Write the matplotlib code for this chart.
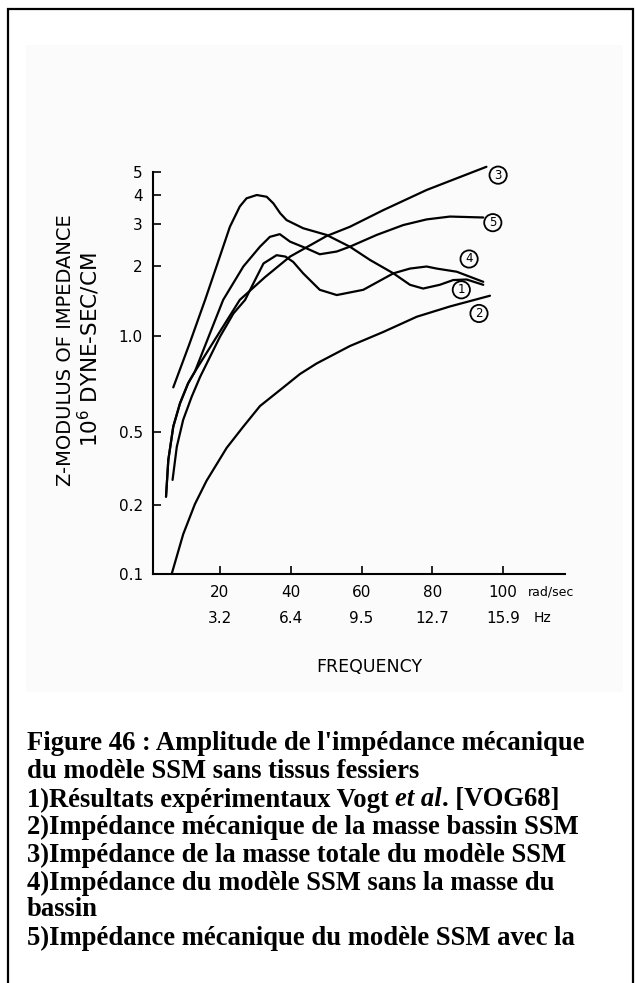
import numpy as np
import matplotlib
matplotlib.use("Agg")
import matplotlib.pyplot as plt
from matplotlib.patches import Rectangle
from matplotlib.ticker import NullLocator
from matplotlib.transforms import blended_transform_factory

# ---- data (x in rad/sec, Z in 10^6 dyne-sec/cm) ----
x1 = [6.8, 11.3, 15.8, 19.3, 22.8, 25.6, 27.5, 30.4, 33.2, 35.1, 37.0, 38.8,
      43.5, 50.1, 56.7, 62.4, 69.0, 73.7, 77.4, 82.1, 85.9, 89.7, 94.4]
z1 = [0.69, 0.94, 1.43, 2.05, 2.92, 3.57, 3.87, 4.0, 3.93, 3.68, 3.34, 3.12,
      2.88, 2.70, 2.41, 2.12, 1.86, 1.66, 1.60, 1.66, 1.74, 1.75, 1.66]

x2 = [6.35, 9.6, 12.9, 16.2, 21.9, 26.6, 31.3, 37.9, 42.6, 47.3, 56.7, 66.1,
      75.6, 85.0, 96.3]
z2 = [0.10, 0.149, 0.202, 0.271, 0.41, 0.52, 0.603, 0.69, 0.76, 0.82, 0.93,
      1.04, 1.21, 1.34, 1.49]

x3 = [4.75, 5.4, 6.8, 8.7, 11.0, 12.9, 19.2, 25.6, 32.7, 39.8, 50.1, 56.7,
      66.1, 78.4, 95.3]
z3 = [0.222, 0.352, 0.52, 0.615, 0.711, 0.773, 1.0, 1.43, 1.79, 2.19, 2.67,
      2.92, 3.44, 4.2, 5.26]

x4 = [6.6, 7.8, 9.6, 12.0, 14.4, 17.2, 20.0, 23.8, 27.1, 30.4, 32.3, 36.0,
      38.5, 40.7, 43.5, 48.2, 53.0, 60.5, 69.0, 73.7, 78.4, 81.2, 86.9, 94.4]
z4 = [0.274, 0.416, 0.546, 0.645, 0.745, 0.861, 0.995, 1.25, 1.43, 1.80, 2.05,
      2.22, 2.19, 2.08, 1.86, 1.58, 1.50, 1.58, 1.86, 1.95, 1.99, 1.95, 1.89,
      1.71]

x5 = [4.75, 5.4, 6.8, 8.7, 11.0, 12.9, 17.2, 20.9, 26.6, 31.3, 34.1, 36.9,
      39.8, 44.5, 48.2, 53.0, 56.7, 64.3, 71.8, 78.4, 85.0, 94.4]
z5 = [0.222, 0.352, 0.52, 0.615, 0.711, 0.773, 1.03, 1.43, 1.99, 2.41, 2.65,
      2.72, 2.53, 2.37, 2.24, 2.30, 2.41, 2.70, 2.97, 3.14, 3.23, 3.20]

curve_ids = ["1", "2", "3", "4", "5"]
label_x = [88.2, 93.2, 98.6, 90.4, 97.1]
label_z = [1.58, 1.25, 4.85, 2.14, 3.04]

xticks = [20, 40, 60, 80, 100]
hz_labels = ["3.2", "6.4", "9.5", "12.7", "15.9"]
yticks = [0.1, 0.2, 0.5, 1.0, 2, 3, 4, 5]
ytick_labels = ["0.1", "0.2", "0.5", "1.0", "2", "3", "4", "5"]

caption = [
    "Figure 46 : Amplitude de l'impédance mécanique",
    "du modèle SSM sans tissus fessiers",
    None,  # line with italics, built below
    "2)Impédance mécanique de la masse bassin SSM",
    "3)Impédance de la masse totale du modèle SSM",
    "4)Impédance du modèle SSM sans la masse du",
    "bassin",
    "5)Impédance mécanique du modèle SSM avec la",
]

# the printed y axis is a hand-drawn log axis: tick spacing taken from the figure
LK = np.log10(yticks)
PK = np.array([0, 69, 142, 238, 308, 350, 379, 402], dtype=float)
s_lo = (PK[1] - PK[0]) / (LK[1] - LK[0])
s_hi = (PK[-1] - PK[-2]) / (LK[-1] - LK[-2])


def fwd(v):
    L = np.log10(np.maximum(np.asarray(v, dtype=float), 1e-9))
    p = np.interp(L, LK, PK)
    p = np.where(L > LK[-1], PK[-1] + (L - LK[-1]) * s_hi, p)
    p = np.where(L < LK[0], PK[0] + (L - LK[0]) * s_lo, p)
    return p


def inv(p):
    p = np.asarray(p, dtype=float)
    L = np.interp(p, PK, LK)
    L = np.where(p > PK[-1], LK[-1] + (p - PK[-1]) / s_hi, L)
    L = np.where(p < PK[0], LK[0] + (p - PK[0]) / s_lo, L)
    return 10 ** L


W, H = 636, 983
fig = plt.figure(figsize=(W / 100, H / 100), dpi=100)
fig.patch.set_facecolor("white")

# faint grey of the scanned image + page frame
fig.patches.append(Rectangle((26 / W, 1 - 692 / H), (623 - 26) / W, (692 - 45) / H,
                             transform=fig.transFigure, fc="#fbfbfb", ec="none", zorder=-5))
fig.patches.append(Rectangle((8 / W, -0.05), (633 - 8) / W, (H - 9) / H + 0.05,
                             transform=fig.transFigure, fill=False, ec="black", lw=1.6, zorder=5))

ax = fig.add_axes([152.5 / W, 1 - 574 / H, 412.5 / W, 402 / H])
ax.set_facecolor("none")
ax.set_yscale("function", functions=(fwd, inv))
ax.set_xlim(0.93, 117.5)
ax.set_ylim(0.1, 5)

for xs, zs in [(x1, z1), (x2, z2), (x3, z3), (x4, z4), (x5, z5)]:
    ax.plot(xs, zs, color="black", lw=1.6, solid_capstyle="round",
            solid_joinstyle="round", clip_on=False)

for cid, lx, lz in zip(curve_ids, label_x, label_z):
    ax.text(lx, lz, cid, ha="center", va="center", fontsize=8.5,
            bbox=dict(boxstyle="circle,pad=0.18", fc="none", ec="black", lw=1.3),
            clip_on=False)

for side in ["top", "right"]:
    ax.spines[side].set_visible(False)
for side in ["left", "bottom"]:
    ax.spines[side].set_linewidth(1.5)

ax.set_yticks(yticks)
ax.set_yticklabels(ytick_labels)
ax.yaxis.set_minor_locator(NullLocator())
ax.set_xticks(xticks)
ax.set_xticklabels([str(t) for t in xticks])
ax.xaxis.set_minor_locator(NullLocator())
ax.tick_params(axis="y", direction="in", length=6, width=1.2, pad=7, labelsize=11)
ax.tick_params(axis="x", direction="in", length=5.5, width=1.2, pad=8, labelsize=11)

trans = blended_transform_factory(ax.transData, ax.transAxes)
for t, lab in zip(xticks, hz_labels):
    ax.text(t, -0.1095, lab, transform=trans, ha="center", va="center", fontsize=11)
ax.text(107.1, -0.044, "rad/sec", transform=trans, ha="left", va="center", fontsize=9)
ax.text(108.5, -0.1095, "Hz", transform=trans, ha="left", va="center", fontsize=10)
ax.text(62.1, -0.231, "FREQUENCY", transform=trans, ha="center", va="center", fontsize=12.5)

fig.text(66 / W, 1 - 350 / H, "Z-MODULUS OF IMPEDANCE", rotation=90,
         ha="center", va="center", fontsize=14)
fig.text(89 / W, 1 - 350 / H, r"10$^6$ DYNE-SEC/CM", rotation=90,
         ha="center", va="center", fontsize=15.5)

# caption
cap_font = dict(family="Liberation Serif", fontweight="bold", fontsize=19.2)
cap_y = [743, 772, 800, 827, 855, 883, 910, 938]
x0 = 27 / W
renderer = fig.canvas.get_renderer()
for line, y in zip(caption, cap_y):
    if line is not None:
        fig.text(x0, 1 - y / H, line, ha="left", va="center", **cap_font)

# line 3 with "et al" in italics
y3 = 1 - cap_y[2] / H
ta = fig.text(x0, y3, "xx", **cap_font)
tb = fig.text(x0, y3, "x x", **cap_font)
space = (tb.get_window_extent(renderer).width - ta.get_window_extent(renderer).width) / W
ta.remove()
tb.remove()
t1 = fig.text(x0, y3, "1)Résultats expérimentaux Vogt", ha="left", va="center", **cap_font)
xa = t1.get_window_extent(renderer).x1 / W + space
t2 = fig.text(xa, y3, "et al", ha="left", va="center", style="italic", **cap_font)
xb = t2.get_window_extent(renderer).x1 / W
fig.text(xb, y3, ". [VOG68]", ha="left", va="center", **cap_font)

fig.savefig("out.png", dpi=100)
